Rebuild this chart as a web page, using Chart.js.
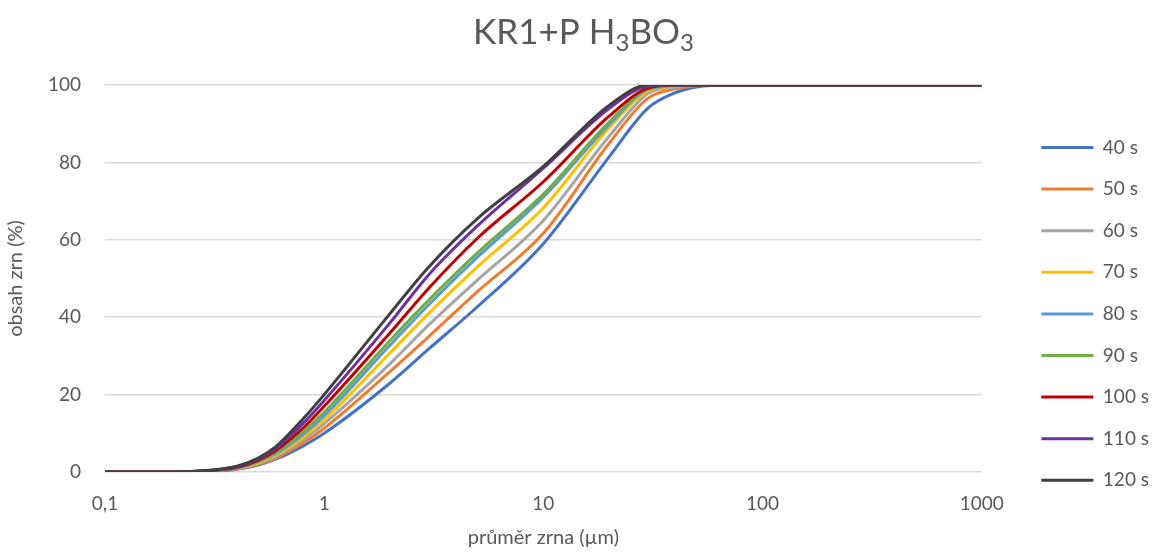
<!DOCTYPE html>
<html>
<head>
<meta charset="utf-8">
<script src="https://cdn.jsdelivr.net/npm/chart.js@4"></script>
<style>
  html, body { margin: 0; padding: 0; background: #fff; }
  #wrap { width: 1159px; height: 554px; }
</style>
</head>
<body>
<div id="wrap"><canvas id="grainChart" width="1159" height="554"></canvas></div>
<script>
// Distribuce velikosti zrn - KR1+P H3BO3

const grainSizes = [0.1, 0.2, 0.3, 0.4, 0.5, 0.6, 0.8, 1, 2, 3, 5, 10, 20, 30, 40, 50, 70, 100, 1000];

const seriesLabels = ['40 s', '50 s', '60 s', '70 s', '80 s', '90 s', '100 s', '110 s', '120 s'];
const seriesColors = ['#4472C4', '#ED7D31', '#A5A5A5', '#FFC000', '#5B9BD5', '#70AD47', '#C00000', '#7030A0', '#404040'];

const s40  = [0, 0, 0.2, 0.7, 1.8, 3.3, 6.7, 10.0, 23.0, 31.8, 42.7, 59.0, 81.5, 94.0, 98.0, 99.5, 100, 100, 100];
const s50  = [0, 0, 0.25, 0.8, 2.0, 3.6, 7.5, 11.3, 26.0, 35.0, 46.6, 61.7, 85.0, 96.6, 99.0, 99.8, 100, 100, 100];
const s60  = [0, 0, 0.3, 0.9, 2.2, 4.0, 8.3, 12.5, 28.0, 38.0, 49.6, 65.0, 86.8, 97.8, 99.5, 100, 100, 100, 100];
const s70  = [0, 0, 0.3, 1.0, 2.4, 4.4, 9.0, 13.5, 30.8, 41.0, 53.0, 68.3, 89.0, 98.4, 99.7, 100, 100, 100, 100];
const s80  = [0, 0, 0.3, 1.05, 2.6, 4.7, 9.7, 14.5, 32.8, 43.2, 55.5, 71.0, 89.8, 98.8, 99.8, 100, 100, 100, 100];
const s90  = [0, 0, 0.35, 1.1, 2.8, 5.0, 10.3, 15.5, 34.0, 44.4, 56.6, 71.8, 90.5, 99.0, 99.9, 100, 100, 100, 100];
const s100 = [0, 0, 0.35, 1.2, 3.0, 5.5, 11.3, 17.0, 36.0, 47.5, 60.4, 75.0, 92.0, 99.2, 100, 100, 100, 100, 100];
const s110 = [0, 0, 0.4, 1.35, 3.3, 6.0, 12.5, 18.5, 38.6, 51.0, 63.6, 78.5, 94.0, 99.7, 100, 100, 100, 100, 100];
const s120 = [0, 0, 0.45, 1.5, 3.6, 6.5, 13.7, 20.0, 41.0, 53.0, 65.5, 79.0, 94.8, 100, 100, 100, 100, 100, 100];

const seriesValues = [s40, s50, s60, s70, s80, s90, s100, s110, s120];

const xTickValues = [0.1, 1, 10, 100, 1000];
const xTickLabels = ['0,1', '1', '10', '100', '1000'];

const textColor = '#595959';
const fontFamily = 'Lato, "Open Sans", sans-serif';

const datasets = seriesValues.map((vals, i) => ({
    label: seriesLabels[i],
    data: grainSizes.map((x, j) => ({ x: x, y: vals[j] })),
    borderColor: seriesColors[i],
    backgroundColor: seriesColors[i],
    borderWidth: 3,
    pointRadius: 0,
    cubicInterpolationMode: 'monotone',
    fill: false,
    order: seriesValues.length - i
}));

// nadpis s dolnimi indexy
const titlePlugin = {
    id: 'subTitle',
    afterDraw(chart) {
        const ctx = chart.ctx;
        const parts = [['KR1+P H', false], ['3', true], ['BO', false], ['3', true]];
        const big = '35px ' + fontFamily;
        const small = '24px ' + fontFamily;
        let total = 0;
        parts.forEach(p => {
            ctx.font = p[1] ? small : big;
            total += ctx.measureText(p[0]).width;
        });
        let x = chart.width / 2 + 4 - total / 2;
        const base = 44;
        ctx.save();
        ctx.fillStyle = textColor;
        ctx.textBaseline = 'alphabetic';
        parts.forEach(p => {
            ctx.font = p[1] ? small : big;
            ctx.fillText(p[0], x, p[1] ? base + 7 : base);
            x += ctx.measureText(p[0]).width;
        });
        ctx.restore();
    }
};

const grainCtx = document.getElementById('grainChart').getContext('2d');
const grainChart = new Chart(grainCtx, {
    type: 'line',
    data: { datasets: datasets },
    options: {
        responsive: false,
        animation: false,
        layout: { padding: { top: 85, left: 0, right: 0, bottom: 0 } },
        plugins: {
            tooltip: { enabled: false },
            title: { display: false },
            legend: {
                position: 'right',
                align: 'start',
                title: { display: true, text: ' ', font: { size: 12 }, padding: 8 },
                labels: {
                    boxWidth: 52,
                    boxHeight: 3,
                    padding: 22.6,
                    color: textColor,
                    font: { family: fontFamily, size: 19 },
                    sort: (a, b) => a.datasetIndex - b.datasetIndex,
                    generateLabels: chart => Chart.defaults.plugins.legend.labels.generateLabels(chart)
                        .map(item => Object.assign(item, { lineWidth: 0 }))
                }
            }
        },
        scales: {
            x: {
                type: 'logarithmic',
                min: 0.1,
                max: 1000,
                afterBuildTicks: scale => { scale.ticks = xTickValues.map(v => ({ value: v })); },
                afterFit: scale => { scale.height = 82; },
                grid: { display: false },
                border: { display: false },
                ticks: {
                    color: textColor,
                    font: { family: fontFamily, size: 19 },
                    padding: 12,
                    maxRotation: 0,
                    autoSkip: false,
                    callback: value => {
                        const k = xTickValues.indexOf(value);
                        return k >= 0 ? xTickLabels[k] : '';
                    }
                },
                title: {
                    display: true,
                    text: 'průměr zrna (µm)',
                    color: textColor,
                    font: { family: fontFamily, size: 20 },
                    padding: { top: 4 }
                }
            },
            y: {
                min: 0,
                max: 100,
                afterFit: scale => { scale.width = 105; },
                grid: { color: '#d9d9d9', lineWidth: 1.5, drawTicks: false },
                border: { display: false },
                ticks: {
                    stepSize: 20,
                    color: textColor,
                    font: { family: fontFamily, size: 19 },
                    padding: 24
                },
                title: {
                    display: true,
                    text: 'obsah zrn (%)',
                    color: textColor,
                    font: { family: fontFamily, size: 20 },
                    padding: { bottom: 4 }
                }
            },
            gap: {
                position: 'right',
                display: true,
                grid: { display: false },
                border: { display: false },
                ticks: { display: false },
                afterFit: scale => { scale.width = 37; }
            }
        }
    },
    plugins: [titlePlugin]
});
</script>
</body>
</html>
